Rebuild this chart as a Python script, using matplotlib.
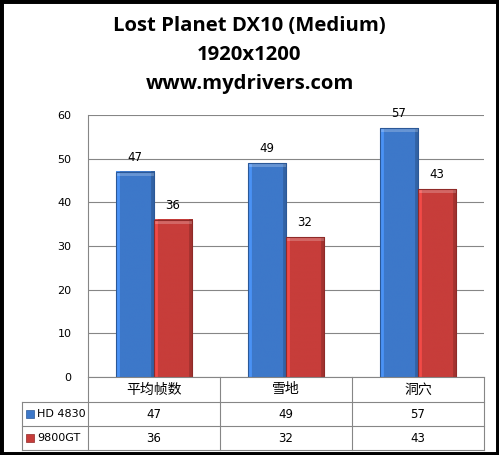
import matplotlib
matplotlib.use("Agg")
import matplotlib.pyplot as plt
import numpy as np
from matplotlib.lines import Line2D
from matplotlib.patches import Rectangle
from matplotlib.colors import to_rgb

categories = ["平均帧数", "雪地", "洞穴"]
series_names = ["HD 4830", "9800GT"]
hd4830 = [47, 49, 57]
gt9800 = [36, 32, 43]
yticks = [0, 10, 20, 30, 40, 50, 60]
title_lines = ["Lost Planet DX10 (Medium)", "1920x1200", "www.mydrivers.com"]

colors = ["#3d78c9", "#c73d3a"]
edges = ["#2b5897", "#8f2a28"]

plt.rcParams['font.family'] = ['Noto Sans CJK SC', 'DejaVu Sans']

W, H = 499, 455
fig = plt.figure(figsize=(W / 100, H / 100), dpi=100)
fig.patch.set_facecolor("white")

def fx(px):
    return px / W

def fy(py):
    return 1 - py / H

fig.add_artist(Rectangle((0, 0), 1, 1, transform=fig.transFigure, fill=False,
                         edgecolor="black", linewidth=5))

ty = [26, 55, 84]
for t, y in zip(title_lines, ty):
    fig.text(0.5, fy(y), t, ha="center", va="center", fontsize=14.6,
             fontweight="bold", family=["Open Sans", "DejaVu Sans"], color="black")

L, R, T, B = 88, 484, 115, 377
ax = fig.add_axes([fx(L), fy(B), fx(R) - fx(L), fy(T) - fy(B)])
n = len(categories)
x = np.arange(n)
bw = 0.288
data = [hd4830, gt9800]

def bar_image(base):
    c = np.array(to_rgb(base))
    nx, ny = 40, 200
    t = np.linspace(0, 1, nx)
    prof = np.where(t < 0.08, 1.22, 1.0)
    prof = np.where(t > 0.90, 0.82, prof)
    img = np.ones((ny, nx, 3)) * c
    img = img * prof[None, :, None]
    return np.clip(img, 0, 1)

px_per_unit = (B - T) / 60.0
for i, vals in enumerate(data):
    off = (i - 0.5) * bw
    img = bar_image(colors[i])
    for xi, v in zip(x, vals):
        x0 = xi + off - bw / 2
        ax.imshow(img, extent=[x0, x0 + bw, 0, v], aspect="auto", zorder=3,
                  interpolation="bilinear")
        band = 4 / px_per_unit
        ax.add_patch(Rectangle((x0, v - band), bw, band, facecolor="white",
                               alpha=0.22, edgecolor="none", zorder=4))
        ax.add_patch(Rectangle((x0, 0), bw, v, facecolor="none",
                               edgecolor=edges[i], linewidth=0.8, zorder=5))
        ax.text(xi + off, v + 1.8, str(v), ha="center", va="bottom",
                fontsize=8.5, color="black", family=["DejaVu Sans"])

ax.set_xlim(-0.5, n - 0.5)
ax.set_ylim(0, 60)
ax.set_yticks(yticks)
ax.set_yticklabels([str(v) for v in yticks], fontsize=8, family=["DejaVu Sans"])
ax.tick_params(axis="y", length=0, pad=12)
ax.set_xticks([])
ax.yaxis.grid(True, color="#868686", linewidth=0.8, zorder=0)
ax.set_axisbelow(True)
for s in ["top", "right", "bottom"]:
    ax.spines[s].set_visible(False)
ax.spines["left"].set_color("#868686")
ax.spines["left"].set_linewidth(0.8)

gc = "#868686"
rows = [377, 402, 426, 450]
tl = 22
colx = [L + (R - L) * k / n for k in range(n + 1)]
lw = 0.8
def hline(x0, x1, y):
    fig.add_artist(Line2D([fx(x0), fx(x1)], [fy(y), fy(y)], color=gc, linewidth=lw,
                          transform=fig.transFigure))
def vline(xp, y0, y1):
    fig.add_artist(Line2D([fx(xp), fx(xp)], [fy(y0), fy(y1)], color=gc, linewidth=lw,
                          transform=fig.transFigure))

hline(L, R, rows[0])
for y in rows[1:]:
    hline(tl, R, y)
for cx in colx:
    vline(cx, rows[0], rows[3])
vline(tl, rows[1], rows[3])

for k, c in enumerate(categories):
    fig.text(fx((colx[k] + colx[k + 1]) / 2), fy((rows[0] + rows[1]) / 2), c,
             ha="center", va="center", fontsize=10, color="black")
for r, (name, vals) in enumerate(zip(series_names, data)):
    yc = (rows[r + 1] + rows[r + 2]) / 2
    fig.add_artist(Rectangle((fx(tl + 4), fy(yc + 4)), fx(8), 8 / H,
                             transform=fig.transFigure, facecolor=colors[r],
                             edgecolor=edges[r], linewidth=0.5))
    fig.text(fx(tl + 15), fy(yc), name, ha="left", va="center", fontsize=8,
             family=["DejaVu Sans"], color="black")
    for k, v in enumerate(vals):
        fig.text(fx((colx[k] + colx[k + 1]) / 2), fy(yc), str(v), ha="center",
                 va="center", fontsize=8.5, family=["DejaVu Sans"], color="black")

fig.savefig("out.png", dpi=100)
